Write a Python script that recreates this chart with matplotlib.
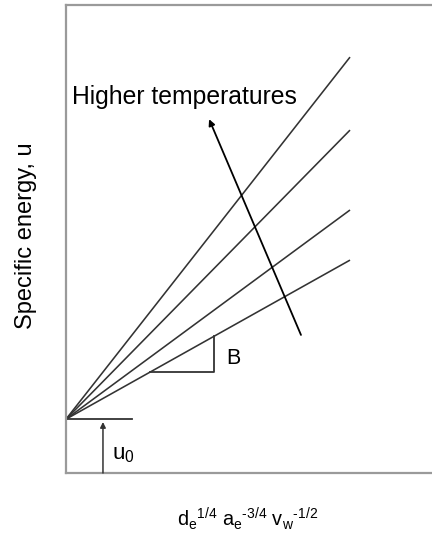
import numpy as np
import matplotlib.pyplot as plt

plt.rcParams["font.family"] = ["Liberation Sans", "DejaVu Sans"]
plt.rcParams["mathtext.fontset"] = "custom"
plt.rcParams["mathtext.rm"] = "Liberation Sans"
plt.rcParams["mathtext.it"] = "Liberation Sans"

# ------------------------------------------------------------
# Schematic values (arbitrary units)
# ------------------------------------------------------------
u0 = 0.115                                  # intercept of all lines
slopes = [0.997, 0.796, 0.576, 0.438]       # one line per temperature
x_end = 0.776                               # where the lines stop
base_len = 0.18                             # horizontal tick at u0

# slope triangle drawn on the lowest line
tri_y = 0.216
tri_x_right = 0.404

# temperature arrow (tail -> head)
arrow_tail = (0.642, 0.295)
arrow_head = (0.391, 0.756)

LINE_C = "#333333"

fig = plt.figure(figsize=(4.32, 5.40), dpi=100)
ax = fig.add_axes([66 / 432, 67 / 540, 366 / 432, 468 / 540])
ax.set_xlim(0, 1)
ax.set_ylim(0, 1)

for side in ["left", "bottom", "top"]:
    ax.spines[side].set_color("#9a9a9a")
    ax.spines[side].set_linewidth(1.6)
ax.spines["right"].set_visible(False)
ax.set_xticks([])
ax.set_yticks([])

# specific energy lines
x = np.array([0.0, x_end])
for b in slopes:
    ax.plot(x, u0 + b * x, color=LINE_C, lw=1.15, solid_capstyle="butt")

# horizontal reference at u0
ax.plot([0, base_len], [u0, u0], color=LINE_C, lw=1.3)

# u0 arrow from the bottom
ax.annotate("", xy=(0.101, u0 - 0.006), xytext=(0.101, 0.0),
            arrowprops=dict(arrowstyle="-|>", color=LINE_C, lw=1.1,
                            mutation_scale=8, shrinkA=0, shrinkB=0))
ax.text(0.125, 0.040, r"u$_\mathregular{0}$", fontsize=16, va="center", ha="left")

# slope triangle B
b_low = slopes[-1]
tri_x_left = (tri_y - u0) / b_low
ax.plot([tri_x_left, tri_x_right, tri_x_right],
        [tri_y, tri_y, u0 + b_low * tri_x_right], color=LINE_C, lw=1.3)
ax.text(0.438, 0.244, "B", fontsize=15.5, va="center", ha="left")

# temperature arrow
ax.annotate("", xy=arrow_head, xytext=arrow_tail,
            arrowprops=dict(arrowstyle="-|>", color="black", lw=1.3,
                            mutation_scale=9, shrinkA=0, shrinkB=0))
ax.text(0.016, 0.803, "Higher temperatures", fontsize=17.8,
        va="center", ha="left")

fig.text(26 / 432, 1 - 236 / 540, "Specific energy, u", fontsize=17,
         rotation=90, ha="center", va="center")
fig.text(248 / 432, 1 - 519 / 540,
         r"$\mathregular{d_e{}^{1/4}\ a_e{}^{\text{-3/4}}\ v_w{}^{\text{-1/2}}}$",
         fontsize=14.3, ha="center", va="center")

fig.savefig("out.png", dpi=100)
